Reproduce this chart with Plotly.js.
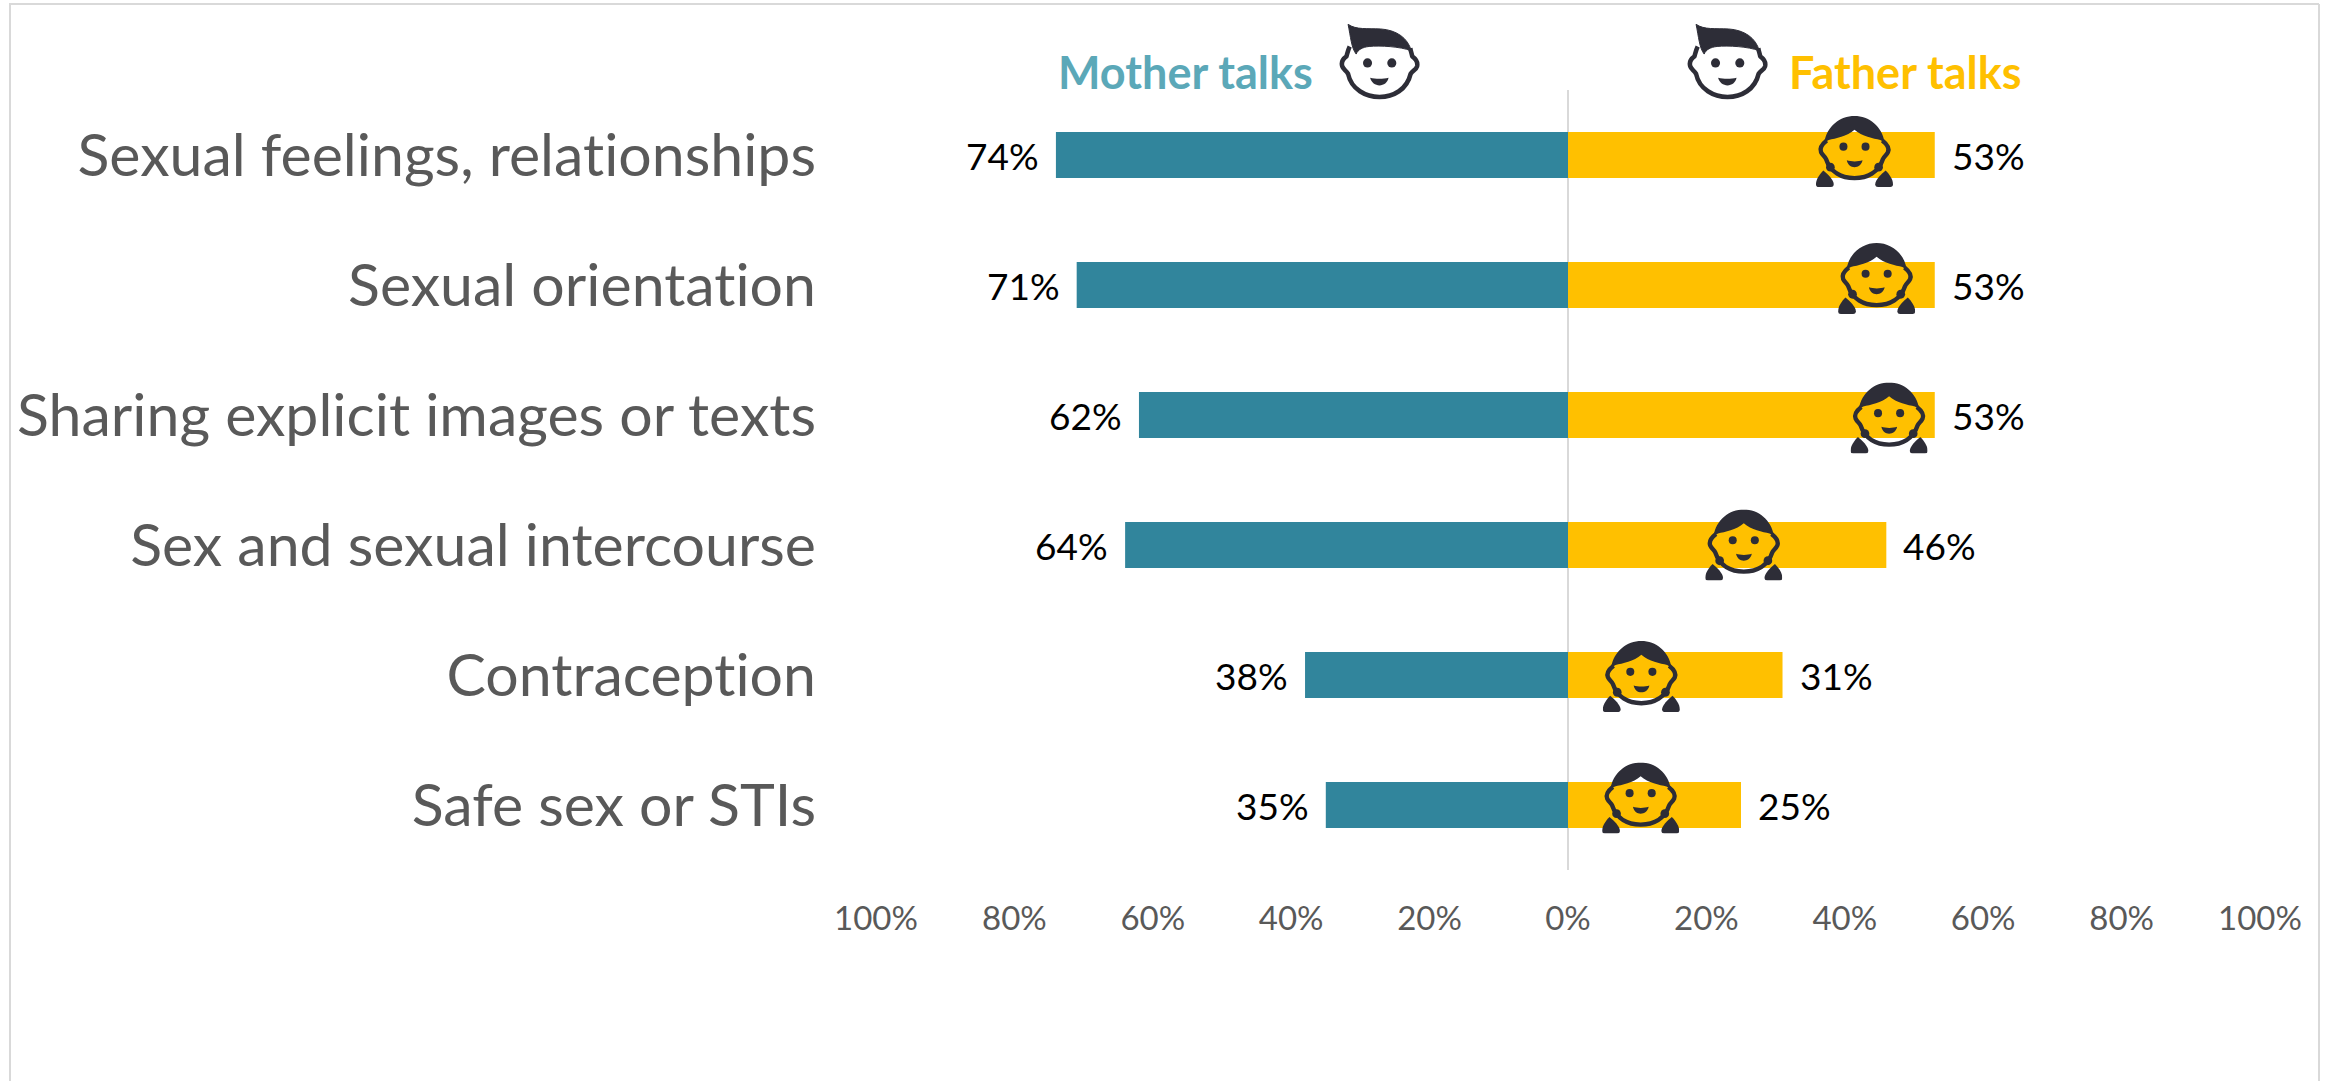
<!DOCTYPE html>
<html><head><meta charset="utf-8">
<script src="https://cdn.plot.ly/plotly-3.0.1.min.js"></script>
<style>html,body{margin:0;padding:0;background:#fff}#c{width:2325px;height:1081px}svg text{font-variant-ligatures:none;font-feature-settings:"liga" 0,"clig" 0,"calt" 0;letter-spacing:0.01px}</style>
</head><body><div id="c"></div>
<script>
var categories = ["Sexual feelings, relationships","Sexual orientation","Sharing explicit images or texts","Sex and sexual intercourse","Contraception","Safe sex or STIs"];
var motherValues = [74,71,62,64,38,35];
var fatherValues = [53,53,53,46,31,25];
var xTickVals = [-100,-80,-60,-40,-20,0,20,40,60,80,100];
var xTickText = ["100%","80%","60%","40%","20%","0%","20%","40%","60%","80%","100%"];
var girlIconX = [41.4,44.6,46.4,25.4,10.6,10.5];
var girlIconYOffset = [0.027,0.05,-0.023,0,-0.012,0.054];

var W=2325,H=1081,L=876,R=2260,T=90,B=870;
function px(v){return (v-L)/(R-L);}
function py(v){return (B-v)/(B-T);}

function svg(vb,body){return 'data:image/svg+xml;utf8,'+encodeURIComponent('<svg xmlns="http://www.w3.org/2000/svg" viewBox="'+vb+'" preserveAspectRatio="none">'+body+'</svg>');}
var dark='#2d2d37';
var boy=svg('112 24 250 233',
 '<path d="M145 95 C140 105 138 115 135 125 C125 132 118 142 122 155 C125 165 135 168 140 178 C150 225 195 248 237 248 C280 248 322 225 333 178 C340 168 350 165 353 155 C356 142 348 132 338 125 C336 115 333 108 332 100" fill="none" stroke="'+dark+'" stroke-width="14" stroke-linejoin="round"/>'+
 '<path d="M140 28 C165 45 200 40 240 42 C290 45 325 70 335 108 C300 95 240 92 205 95 C185 97 170 105 165 118 C150 100 148 65 140 28 Z" fill="'+dark+'" stroke="'+dark+'" stroke-width="3" stroke-linejoin="round"/>'+
 '<circle cx="200" cy="145" r="14" fill="'+dark+'"/><circle cx="275" cy="145" r="14" fill="'+dark+'"/>'+
 '<path d="M208 190 C225 194 248 194 265 190 C262 205 250 213 237 213 C224 213 212 205 208 190 Z" fill="'+dark+'"/>');
var girl=svg('213 40 230 208',
 '<path d="M245 112 C232 122 222 132 228 146 C232 155 240 158 243 166 C256 205 290 222 328 222 C366 222 400 205 413 166 C416 158 424 155 428 146 C434 132 424 122 411 112" fill="none" stroke="'+dark+'" stroke-width="13" stroke-linejoin="round"/>'+
 '<path d="M238 118 C245 70 285 40 328 40 C371 40 411 70 418 118 L405 110 C385 105 350 100 328 80 C306 100 271 105 251 110 Z" fill="'+dark+'"/>'+
 '<circle cx="256" cy="190" r="13" fill="'+dark+'"/><circle cx="400" cy="190" r="13" fill="'+dark+'"/>'+
 '<path d="M213 240 C213 225 225 210 235 200 C248 210 266 228 266 240 C266 246 262 248 258 248 L221 248 C216 248 213 246 213 240 Z" fill="'+dark+'"/>'+
 '<path d="M443 240 C443 225 431 210 421 200 C408 210 390 228 390 240 C390 246 394 248 398 248 L435 248 C440 248 443 246 443 240 Z" fill="'+dark+'"/>'+
 '<circle cx="295" cy="130" r="12" fill="'+dark+'"/><circle cx="361" cy="130" r="12" fill="'+dark+'"/>'+
 '<path d="M305 170 C318 174 339 174 352 170 C349 184 339 190 328 190 C317 190 308 184 305 170 Z" fill="'+dark+'"/>');

var traces=[
 {type:'bar',orientation:'h',y:categories,x:motherValues.map(function(v){return -v;}),marker:{color:'#31859c'},width:46/130,hoverinfo:'skip',name:'Mother talks'},
 {type:'bar',orientation:'h',y:categories,x:fatherValues,marker:{color:'#ffc000'},width:46/130,hoverinfo:'skip',name:'Father talks'}
];
var annotations=[];
categories.forEach(function(c,i){
 annotations.push({x:-motherValues[i],y:c,xref:'x',yref:'y',text:motherValues[i]+'%',showarrow:false,xanchor:'right',yanchor:'middle',xshift:-15,font:{family:'Lato',size:37,color:'#000'}});
 annotations.push({x:fatherValues[i],y:c,xref:'x',yref:'y',text:fatherValues[i]+'%',showarrow:false,xanchor:'left',yanchor:'middle',xshift:15,font:{family:'Lato',size:37,color:'#000'}});
});
annotations.push({xref:'paper',yref:'paper',x:px(1185),y:py(72),xanchor:'center',yanchor:'middle',text:'<b>Mother talks</b>',showarrow:false,font:{family:'Lato',size:45,color:'#5ba8b8'}});
annotations.push({xref:'paper',yref:'paper',x:px(1905),y:py(72),xanchor:'center',yanchor:'middle',text:'<b>Father talks</b>',showarrow:false,font:{family:'Lato',size:45,color:'#ffc000'}});

var images=[
 {source:boy,xref:'paper',yref:'paper',x:px(1379.5),y:py(61.5),sizex:81/(R-L),sizey:77/(B-T),xanchor:'center',yanchor:'middle',sizing:'stretch',layer:'above'},
 {source:boy,xref:'paper',yref:'paper',x:px(1727.5),y:py(61.5),sizex:81/(R-L),sizey:77/(B-T),xanchor:'center',yanchor:'middle',sizing:'stretch',layer:'above'}
];
categories.forEach(function(c,i){
 images.push({source:girl,xref:'x',yref:'y',x:girlIconX[i],y:5-i+girlIconYOffset[i],sizex:11.13,sizey:0.546,xanchor:'center',yanchor:'middle',sizing:'stretch',layer:'above'});
});

var shapes=[
 {type:'line',xref:'paper',yref:'paper',x0:px(9),x1:px(2319),y0:py(4),y1:py(4),line:{color:'#d9d9d9',width:2}},
 {type:'line',xref:'paper',yref:'paper',x0:px(10),x1:px(10),y0:py(4),y1:py(1081),line:{color:'#d9d9d9',width:2}},
 {type:'line',xref:'paper',yref:'paper',x0:px(2319),x1:px(2319),y0:py(4),y1:py(1081),line:{color:'#d9d9d9',width:2}}
];

var layout={
 width:W,height:H,margin:{l:L,r:W-R,t:T,b:H-B,pad:0},
 paper_bgcolor:'#fff',plot_bgcolor:'#fff',showlegend:false,barmode:'overlay',
 xaxis:{range:[-100,100],tickvals:xTickVals,ticktext:xTickText,showgrid:false,zeroline:true,zerolinecolor:'#d9d9d9',zerolinewidth:1.5,showline:false,ticks:'',tickfont:{family:'Lato',size:33,color:'#595959'},ticklabelstandoff:26},
 yaxis:{type:'category',categoryorder:'array',categoryarray:categories.slice().reverse(),showgrid:false,zeroline:false,showline:false,ticks:'',tickfont:{family:'Lato',size:59,color:'#595959'},ticklabelstandoff:59,range:[-0.5,5.5]},
 annotations:annotations,images:images,shapes:shapes
};
Plotly.newPlot('c',traces,layout,{displayModeBar:false,staticPlot:true});
</script></body></html>
